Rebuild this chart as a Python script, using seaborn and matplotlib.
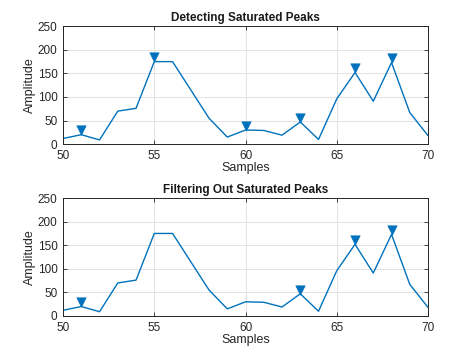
import numpy as np
import pandas as pd
import matplotlib
matplotlib.use("Agg")
import matplotlib.pyplot as plt
import seaborn as sns

# ==============================
# Data
# ==============================
samples = list(range(50, 71))
amplitude = [12, 20, 9, 70, 76, 175, 175, 115, 55, 15, 30, 29, 19, 47, 10,
             96, 152, 91, 173, 67, 18]

# all peaks found (top) and peaks left after removing saturated ones (bottom)
peaks_all_x = [51, 55, 60, 63, 66, 68]
peaks_all_y = [20, 175, 30, 47, 152, 173]
peaks_kept_x = [51, 63, 66, 68]
peaks_kept_y = [20, 47, 152, 173]

titles = ["Detecting Saturated Peaks", "Filtering Out Saturated Peaks"]

BLUE = "#0072BD"
MARKER_OFFSET = 9

sns.set_theme(style="ticks")
plt.rcParams["font.family"] = ["Liberation Sans", "DejaVu Sans"]

fig = plt.figure(figsize=(4.74, 3.55), dpi=100)
axes = [fig.add_axes([0.133, 0.594, 0.770, 0.332]),
        fig.add_axes([0.133, 0.110, 0.770, 0.332])]

sig = pd.DataFrame({"Samples": samples, "Amplitude": amplitude})
peak_sets = [(peaks_all_x, peaks_all_y), (peaks_kept_x, peaks_kept_y)]

for ax, title, (px, py) in zip(axes, titles, peak_sets):
    sns.lineplot(data=sig, x="Samples", y="Amplitude", ax=ax,
                 color=BLUE, linewidth=1.0)
    pk = pd.DataFrame({"x": px, "y": np.array(py) + MARKER_OFFSET})
    sns.scatterplot(data=pk, x="x", y="y", ax=ax, marker="v", s=45,
                    color=BLUE, edgecolor=BLUE, linewidth=0.5, zorder=3)
    ax.set_xlim(50, 70)
    ax.set_ylim(0, 250)
    ax.set_xticks([50, 55, 60, 65, 70])
    ax.set_yticks([0, 50, 100, 150, 200, 250])
    ax.grid(True, color="#e3e3e3", linewidth=0.7)
    ax.set_axisbelow(True)
    for s in ax.spines.values():
        s.set_visible(True)
        s.set_color("#262626")
        s.set_linewidth(0.7)
    ax.tick_params(direction="in", length=3, width=0.6, top=True, right=True,
                   labelsize=8.5, colors="#262626")
    ax.tick_params(axis="x", pad=4)
    ax.tick_params(axis="y", pad=4)
    ax.set_xlabel("Samples", fontsize=9, color="#262626", labelpad=0)
    ax.set_ylabel("Amplitude", fontsize=9, color="#262626", labelpad=1)
    ax.set_title(title, fontsize=8.5, fontweight="bold", color="#1a1a1a", pad=4)

fig.savefig("out.png", dpi=100)
